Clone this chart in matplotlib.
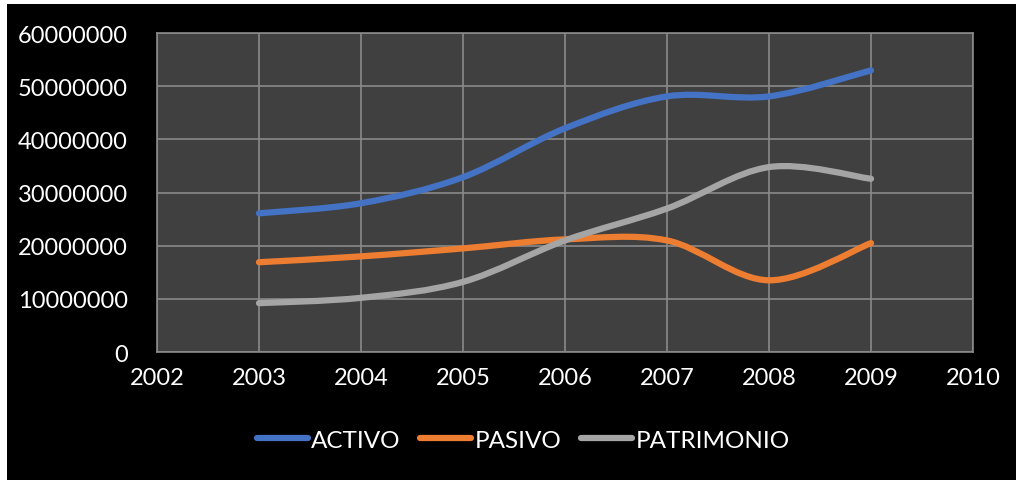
import matplotlib.pyplot as plt
from matplotlib.path import Path
from matplotlib.patches import PathPatch, Rectangle
from matplotlib.lines import Line2D

plt.rcParams['font.family'] = ['Lato', 'DejaVu Sans']

# Data
years = [2003, 2004, 2005, 2006, 2007, 2008, 2009]
activo = [26100000, 28000000, 32900000, 42100000, 48100000, 48100000, 53000000]
pasivo = [16900000, 18000000, 19500000, 21200000, 21000000, 13500000, 20500000]
patrimonio = [9200000, 10200000, 13200000, 21000000, 27000000, 34800000, 32600000]

series = [('ACTIVO', activo, '#4472C4'),
          ('PASIVO', pasivo, '#ED7D31'),
          ('PATRIMONIO', patrimonio, '#A5A5A5')]


def smooth_path(xs, ys):
    # Excel-style smoothed line: cubic Bezier through each point
    pts = list(zip(xs, ys))
    n = len(pts)
    verts = [pts[0]]
    codes = [Path.MOVETO]
    for i in range(n - 1):
        p0 = pts[i - 1] if i > 0 else pts[i]
        p1 = pts[i]
        p2 = pts[i + 1]
        p3 = pts[i + 2] if i + 2 < n else pts[i + 1]
        c1 = (p1[0] + (p2[0] - p0[0]) / 6, p1[1] + (p2[1] - p0[1]) / 6)
        c2 = (p2[0] - (p3[0] - p1[0]) / 6, p2[1] - (p3[1] - p1[1]) / 6)
        verts += [c1, c2, p2]
        codes += [Path.CURVE4] * 3
    return Path(verts, codes)


fig = plt.figure(figsize=(10.16, 4.81), dpi=100, facecolor='white')
fig.patches.append(Rectangle((7 / 1016, 0), 1, 1 - 5 / 481, transform=fig.transFigure,
                             facecolor='black', edgecolor='none', zorder=-10))

ax = fig.add_axes([0.1545, 0.266, 0.8032, 0.663])
ax.set_facecolor('#404040')

handles = []
for name, vals, color in series:
    patch = PathPatch(smooth_path(years, vals), facecolor='none', edgecolor=color,
                      lw=4.5, capstyle='round', joinstyle='round', zorder=3)
    ax.add_patch(patch)
    handles.append(Line2D([], [], color=color, lw=4.5, solid_capstyle='round', label=name))

ax.set_xlim(2002, 2010)
ax.set_ylim(0, 60000000)
ax.set_xticks(range(2002, 2011))
ax.set_yticks(range(0, 60000001, 10000000))
ax.set_yticklabels([str(v) for v in range(0, 60000001, 10000000)])
ax.grid(color='#8a8a8a', lw=1.2)
ax.set_axisbelow(True)
for s in ax.spines.values():
    s.set_color('#8a8a8a')
    s.set_linewidth(1.2)
ax.tick_params(colors='white', labelsize=17, length=0)
ax.tick_params(axis='y', pad=21)
ax.tick_params(axis='x', pad=11)

leg = fig.legend(handles=handles, loc='center', bbox_to_anchor=(0.515, 0.083), ncol=3,
                 frameon=False, fontsize=17.5, handlelength=2.1, handletextpad=0.15,
                 columnspacing=0.8, labelcolor='white')

plt.savefig('out.png', dpi=100, facecolor=fig.get_facecolor())
